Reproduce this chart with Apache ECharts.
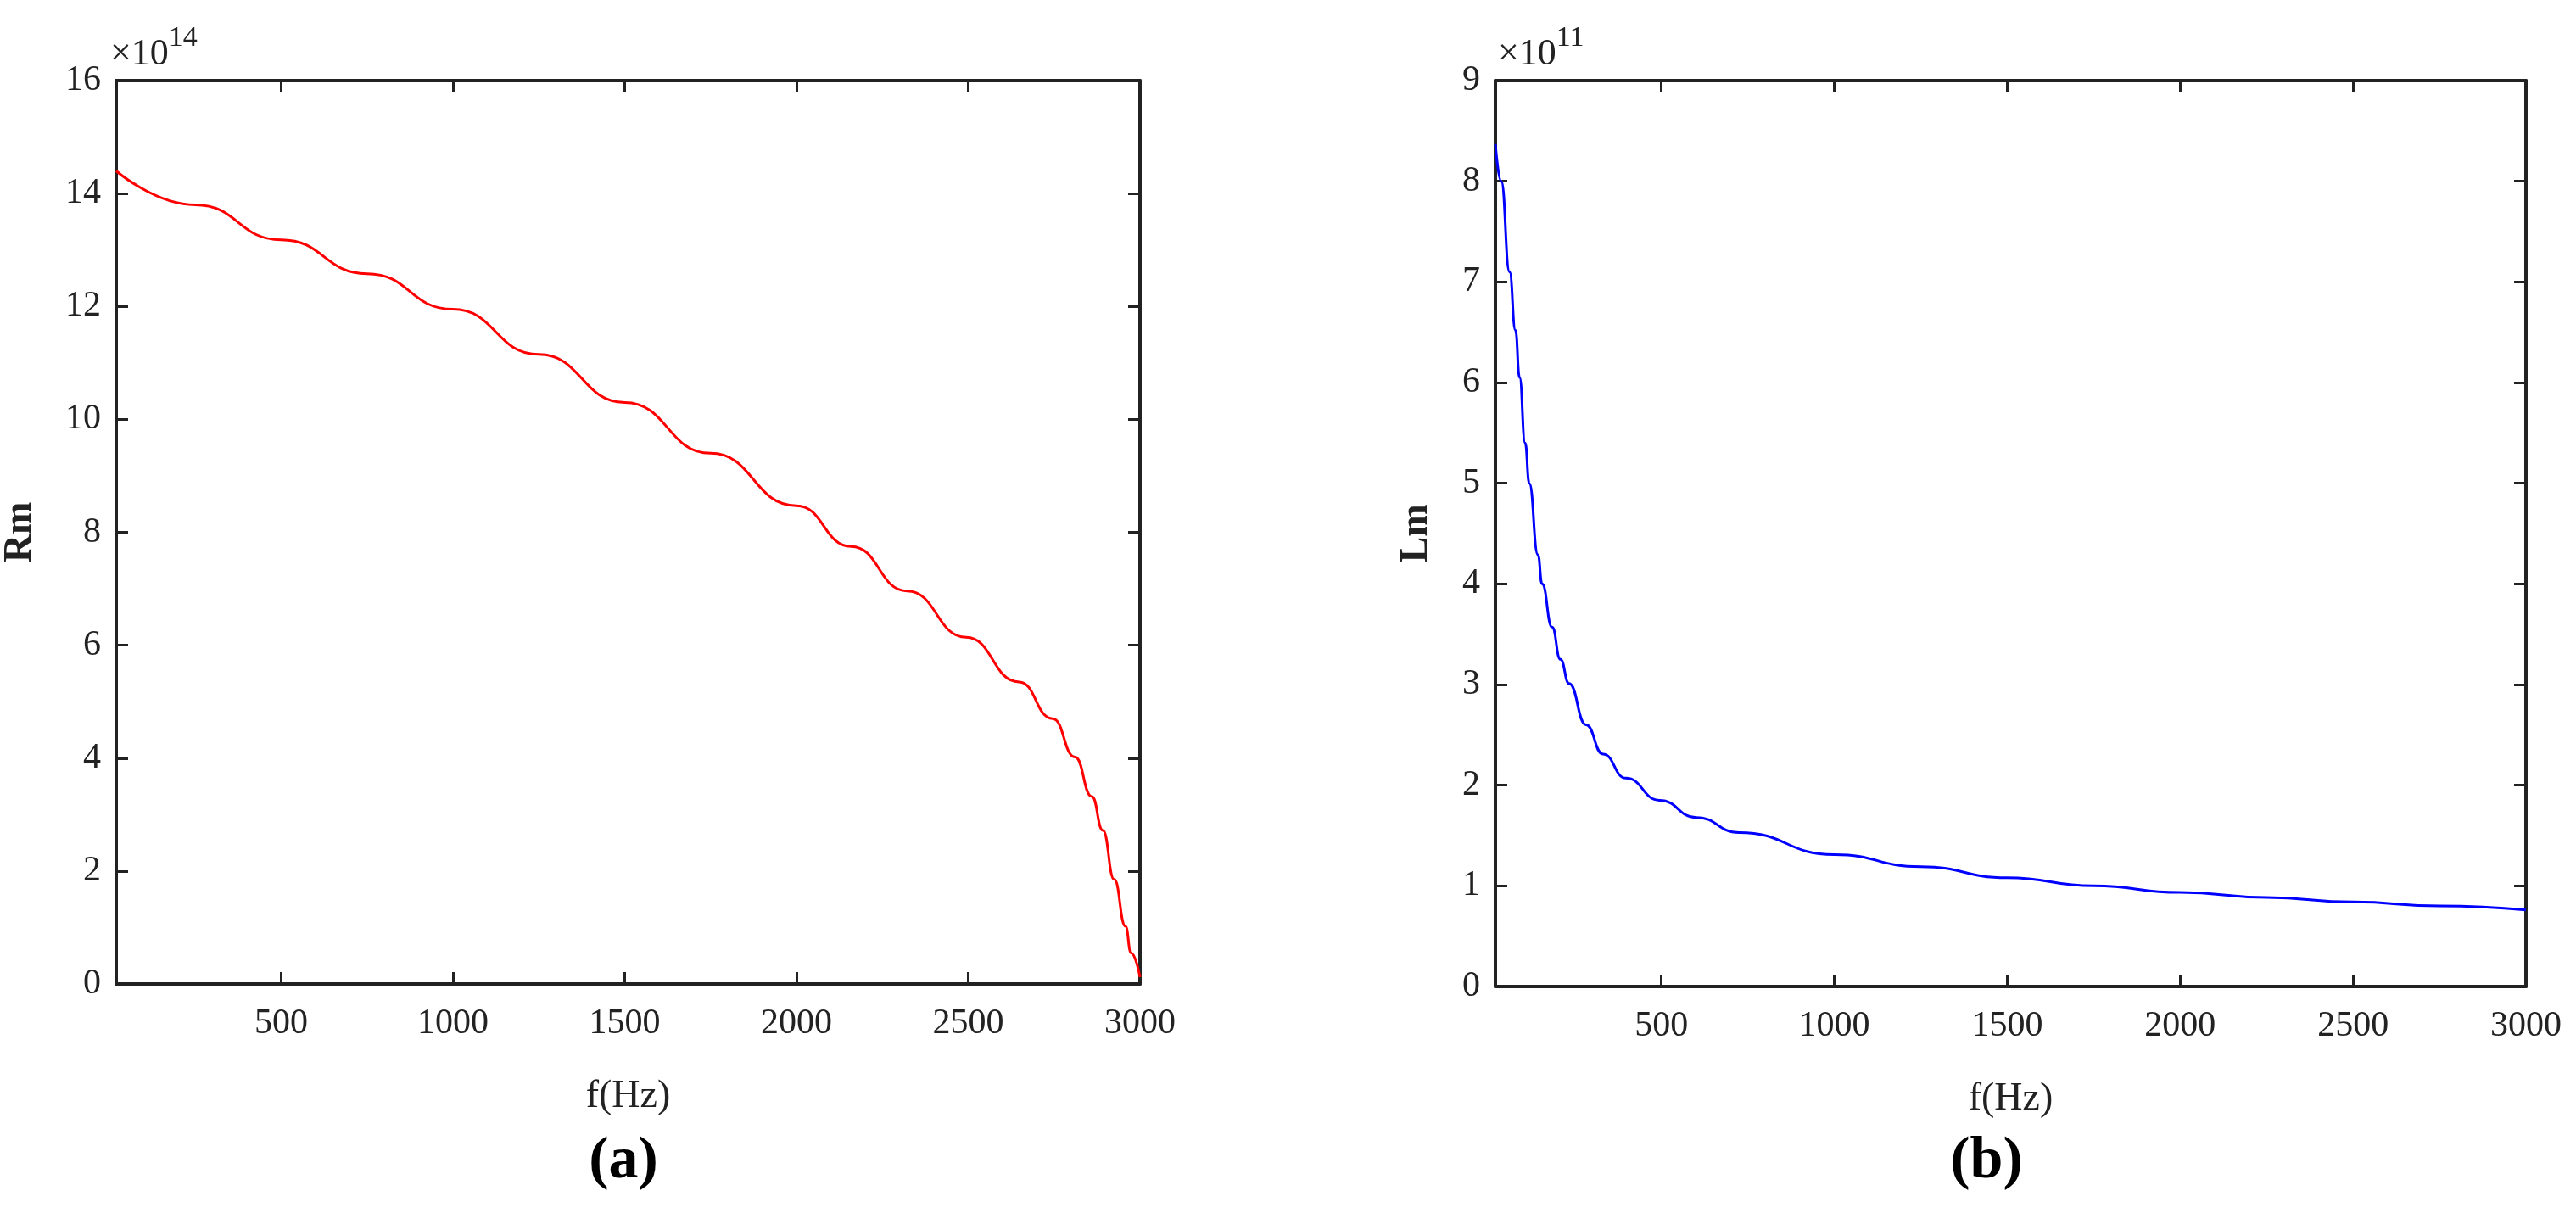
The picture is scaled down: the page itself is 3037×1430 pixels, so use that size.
<!DOCTYPE html>
<html>
<head>
<meta charset="utf-8">
<script src="https://cdn.jsdelivr.net/npm/echarts@6/dist/echarts.min.js"></script>
<style>
  html, body { margin: 0; padding: 0; background: #fff; }
  #main { width: 3037px; height: 1430px; }
</style>
</head>
<body>
<div id="main"></div>
<script>
// (a) Rm, 单位 1e14
const freqA = [20, 250, 500, 750, 1000, 1250, 1500, 1750, 2000, 2159, 2322, 2494, 2648, 2746, 2811, 2860, 2892, 2925, 2958, 2974, 3000];
const rmVals = [14.4, 13.8, 13.18, 12.58, 11.95, 11.15, 10.3, 9.4, 8.47, 7.75, 6.96, 6.14, 5.35, 4.7, 4.02, 3.32, 2.72, 1.85, 1.02, 0.55, 0.12];

// (b) Lm, 单位 1e11
const freqB = [20, 37, 61, 78, 90, 106, 118, 143, 155, 184, 208, 233, 282, 331, 397, 495, 601, 724, 1000, 1250, 1500, 1750, 2000, 2250, 2500, 2750, 3000];
const lmVals = [8.37, 8.0, 7.1, 6.52, 6.05, 5.4, 5.0, 4.29, 4.0, 3.57, 3.25, 3.01, 2.6, 2.31, 2.07, 1.85, 1.68, 1.53, 1.31, 1.19, 1.08, 1.0, 0.935, 0.885, 0.84, 0.80, 0.76];

const xTicks = [500, 1000, 1500, 2000, 2500, 3000];

const FONT = '"Liberation Serif", "DejaVu Serif", serif';
const INK = '#222';

const chart = echarts.init(document.getElementById('main'));

const grids = [
  { left: 127, top: 95, width: 1217, height: 1065 },
  { left: 1763, top: 95, width: 1215, height: 1068 }
];

const lineStyle = { color: INK, width: 4 };

const makeX = (gridIndex, mirror) => ({
  type: 'value',
  gridIndex,
  min: 20,
  max: 3000,
  position: mirror ? 'top' : 'bottom',
  axisLine: { show: true, onZero: false, lineStyle },
  axisTick: { show: true, inside: true, length: 14, lineStyle: { color: INK, width: 3 },
    customValues: xTicks },
  axisLabel: { show: !mirror, customValues: xTicks, margin: 26, color: INK, fontFamily: FONT, fontSize: 42,
    formatter: v => String(v) },
  splitLine: { show: false },
  name: mirror ? '' : 'f(Hz)',
  nameLocation: 'middle',
  nameGap: 110,
  nameTextStyle: { color: INK, fontFamily: FONT, fontSize: 46 }
});

const makeY = (gridIndex, max, interval, mirror, name) => ({
  type: 'value',
  gridIndex,
  min: 0,
  max,
  interval,
  position: mirror ? 'right' : 'left',
  axisLine: { show: true, onZero: false, lineStyle },
  axisTick: { show: true, inside: true, length: 14, lineStyle: { color: INK, width: 3 } },
  axisLabel: { show: !mirror, margin: 18, color: INK, fontFamily: FONT, fontSize: 42 },
  splitLine: { show: false },
  name: mirror ? '' : name,
  nameLocation: 'middle',
  nameGap: mirror ? 0 : (gridIndex === 0 ? 90 : 70),
  nameTextStyle: { color: INK, fontFamily: FONT, fontSize: 46, fontWeight: 'bold' }
});

const powerLabel = (left, exp) => ({
  type: 'text', left, top: 28,
  style: {
    text: '{b|×10}{s|' + exp + '}', fill: INK, fontFamily: FONT,
    rich: {
      b: { fontSize: 44, fontFamily: FONT, verticalAlign: 'bottom' },
      s: { fontSize: 34, fontFamily: FONT, verticalAlign: 'top', padding: [0, 0, 24, 0] }
    }
  }
});

chart.setOption({
  animation: false,
  backgroundColor: '#fff',
  grid: grids,
  xAxis: [makeX(0, false), makeX(0, true), makeX(1, false), makeX(1, true)],
  yAxis: [
    makeY(0, 16, 2, false, 'Rm'), makeY(0, 16, 2, true),
    makeY(1, 9, 1, false, 'Lm'), makeY(1, 9, 1, true)
  ],
  series: [
    {
      type: 'line', xAxisIndex: 0, yAxisIndex: 0,
      data: freqA.map((f, i) => [f, rmVals[i]]),
      smooth: 0.5, smoothMonotone: 'x', showSymbol: false,
      lineStyle: { color: '#ff0000', width: 3 }
    },
    {
      type: 'line', xAxisIndex: 2, yAxisIndex: 2,
      data: freqB.map((f, i) => [f, lmVals[i]]),
      smooth: 0.5, smoothMonotone: 'x', showSymbol: false,
      lineStyle: { color: '#0000ff', width: 3 }
    }
  ],
  graphic: [
    powerLabel(130, 14),
    powerLabel(1766, 11),
    {
      type: 'text', x: 735, y: 1370,
      style: { text: '(a)', fill: '#000', fontFamily: FONT, fontSize: 70, fontWeight: 'bold', align: 'center', verticalAlign: 'middle' }
    },
    {
      type: 'text', x: 2342, y: 1370,
      style: { text: '(b)', fill: '#000', fontFamily: FONT, fontSize: 70, fontWeight: 'bold', align: 'center', verticalAlign: 'middle' }
    }
  ]
});

window.addEventListener('resize', () => chart.resize());
</script>
</body>
</html>
